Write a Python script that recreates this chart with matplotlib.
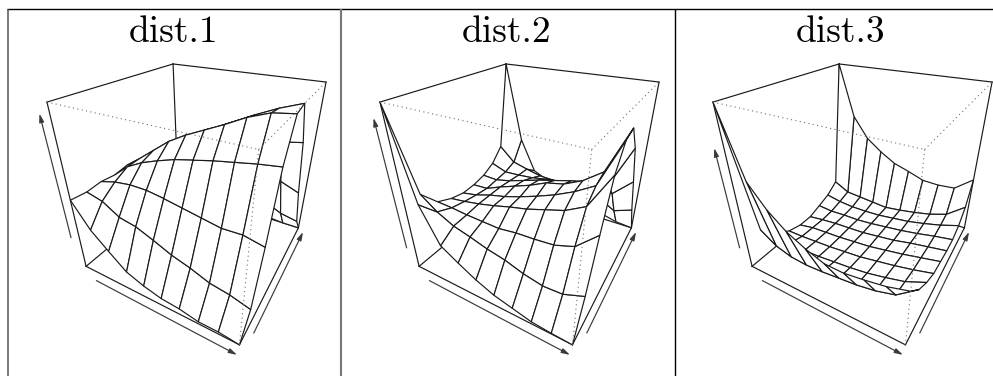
import numpy as np
import matplotlib
matplotlib.use("Agg")
import matplotlib.pyplot as plt
from matplotlib.lines import Line2D
from mpl_toolkits.mplot3d import proj3d

titles = ["dist.1", "dist.2", "dist.3"]
grid_x = np.linspace(-1, 1, 10)
grid_y = np.linspace(-1, 1, 10)

# Heights, one row per y grid line, on the box's -1..1 scale
dist1 = [
    [-.05, -.36, -.56, -.75, -.84, -.90, -.92, -.97, -.97, -1.0],
    [-.07, -.12, -.25, -.29, -.38, -.48, -.55, -.64, -.68, -.75],
    [-.05, .01, .04, .04, .01, -.03, -.07, -.11, -.10, -.15],
    [-.07, .10, .21, .29, .36, .41, .46, .50, .54, .57],
    [-.04, .11, .27, .43, .55, .65, .75, .86, .94, .97],
    [-.12, .03, .20, .36, .49, .60, .71, .82, .92, 1.0],
    [-.35, -.25, -.12, .00, .10, .20, .30, .40, .50, .54],
    [-.50, -.42, -.35, -.27, -.20, -.15, -.10, -.07, -.09, -.18],
    [-.70, -.65, -.60, -.55, -.52, -.50, -.52, -.58, -.69, -.74],
    [-.80, -.85, -.88, -.90, -.92, -.94, -.96, -.98, -1.0, -1.0],
]
dist2 = [
    [1.0, -.03, -.48, -.62, -.75, -.85, -.91, -.97, -.99, -1.0],
    [-.10, -.26, -.37, -.43, -.50, -.55, -.63, -.68, -.67, -.57],
    [-.33, -.34, -.36, -.37, -.38, -.35, -.34, -.32, -.24, -.01],
    [-.41, -.38, -.34, -.29, -.23, -.18, -.11, -.04, .085, .49],
    [-.45, -.41, -.34, -.29, -.22, -.14, -.05, .06, .20, .73],
    [-.44, -.43, -.34, -.26, -.18, -.08, -.03, .08, .25, .77],
    [-.40, -.41, -.36, -.29, -.22, -.16, -.10, -.05, -.02, .48],
    [-.31, -.39, -.38, -.36, -.32, -.30, -.28, -.25, -.26, -.03],
    [-.13, -.33, -.39, -.44, -.45, -.45, -.46, -.52, -.65, -.56],
    [1.0, -.06, -.52, -.62, -.70, -.78, -.85, -.92, -.98, -1.0],
]
dist3 = [
    [1.0, .24, -.02, -.20, -.32, -.41, -.42, -.39, -.35, -.28],
    [-.60, -.75, -.82, -.84, -.83, -.81, -.79, -.75, -.68, -.48],
    [-.80, -.88, -.90, -.89, -.87, -.85, -.82, -.77, -.71, -.60],
    [-.93, -.93, -.92, -.91, -.89, -.87, -.83, -.79, -.74, -.68],
    [-.98, -.94, -.93, -.92, -.90, -.88, -.84, -.80, -.75, -.70],
    [-.98, -.95, -.93, -.92, -.91, -.88, -.85, -.80, -.76, -.72],
    [-.92, -.94, -.93, -.93, -.91, -.88, -.85, -.81, -.76, -.72],
    [-.855, -.90, -.92, -.92, -.91, -.88, -.85, -.80, -.74, -.66],
    [-.733, -.85, -.87, -.89, -.91, -.88, -.84, -.79, -.71, -.52],
    [1.0, .30, .01, -.15, -.28, -.35, -.43, -.44, -.42, -.23],
]
surfaces = [dist1, dist2, dist3]

# Extent of the height arrow for each panel
z_arrow_low = [-.54, -.69, -.69]
z_arrow_high = [.90, .86, .56]

FIG_W, FIG_H = 993, 376
PX_SCALE = 327.0
CENTER_X = [200.2, 533.2, 866.2]
CENTER_Y = 178.7
FOCAL = 0.2053
LINE = "#1a1a1a"
ARROW = "#3a3a3a"
DOT = "#707070"

fig = plt.figure(figsize=(FIG_W / 100, FIG_H / 100), dpi=100, facecolor="white")


def line3(ax, a, b, **kw):
    ln, = ax.plot([a[0], b[0]], [a[1], b[1]], [a[2], b[2]], **kw)
    ln.set_clip_on(False)


def arrow3(ax, a, b):
    M = ax.get_proj()
    x0, y0, _ = proj3d.proj_transform(*a, M)
    x1, y1, _ = proj3d.proj_transform(*b, M)
    ax.annotate("", xy=(x1, y1), xytext=(x0, y0), annotation_clip=False, zorder=4,
                arrowprops=dict(arrowstyle="-|>,head_length=0.55,head_width=0.16",
                                color=ARROW, lw=0.85, shrinkA=0, shrinkB=0,
                                mutation_scale=9))


for k, z in enumerate(surfaces):
    ax = fig.add_subplot(projection="3d", computed_zorder=False)
    ax.set_proj_type("persp", focal_length=FOCAL)
    ax.view_init(elev=30, azim=-60)
    ax.set_box_aspect((1, 1, 1))
    ax.set_xlim(-1, 1, view_margin=0)
    ax.set_ylim(-1, 1, view_margin=0)
    ax.set_zlim(-1, 1, view_margin=0)
    ax.set_axis_off()
    ax.patch.set_visible(False)

    ppu = PX_SCALE / FOCAL
    vx0, vx1 = ax.viewLim.intervalx
    vy0, vy1 = ax.viewLim.intervaly
    w = (vx1 - vx0) * ppu
    h = (vy1 - vy0) * ppu
    left = CENTER_X[k] + vx0 * ppu
    bottom = FIG_H - CENTER_Y + vy0 * ppu
    ax.set_position([left / FIG_W, bottom / FIG_H, w / FIG_W, h / FIG_H])

    # box edges behind the surface
    solid = dict(color=LINE, lw=0.85, zorder=1)
    for a, b in [((-1, -1, 1), (-1, 1, 1)), ((-1, 1, 1), (1, 1, 1)),
                 ((-1, -1, 1), (-1, -1, -1)), ((-1, 1, 1), (-1, 1, -1)),
                 ((1, 1, 1), (1, 1, -1)), ((-1, -1, -1), (-1, 1, -1)),
                 ((-1, 1, -1), (1, 1, -1)), ((-1, -1, -1), (1, -1, -1)),
                 ((1, -1, -1), (1, 1, -1))]:
        line3(ax, a, b, **solid)

    X, Y = np.meshgrid(grid_x, grid_y)
    surf = ax.plot_surface(X, Y, np.array(z), rstride=1, cstride=1, color="white",
                           edgecolor=LINE, linewidth=0.85, shade=False, zorder=2,
                           antialiased=True)
    surf.set_clip_on(False)

    # nearest box edges, dotted over the surface
    dotted = dict(color=DOT, lw=0.8, ls=(0, (1, 3)), zorder=3)
    for a, b in [((-1, -1, 1), (1, -1, 1)), ((1, -1, 1), (1, 1, 1)),
                 ((1, -1, 1), (1, -1, -1))]:
        line3(ax, a, b, **dotted)

    # axis arrows
    arrow3(ax, (-.73, -1.10, -1), (1.02, -1.10, -1))
    arrow3(ax, (1.07, -.82, -1), (1.08, .94, -1))
    arrow3(ax, (-1.06, -1.06, z_arrow_low[k]), (-1.06, -1.06, z_arrow_high[k]))

# table rules
for xa, ya, xb, yb, col, lw in [
    (7, 8.5, 993, 8.5, "black", 1.0),
    (7.5, 8.5, 7.5, 376, "#555555", 1.1),
    (341, 8.5, 341, 376, "#777777", 1.5),
    (674.5, 8.5, 674.5, 376, "black", 1.0),
]:
    fig.add_artist(Line2D([xa / FIG_W, xb / FIG_W], [1 - ya / FIG_H, 1 - yb / FIG_H],
                          color=col, lw=lw, solid_capstyle="butt"))

for cx, t in zip([173.5, 507, 841], titles):
    fig.text(cx / FIG_W, 1 - 41.5 / FIG_H, t, family="cmr10", fontsize=27,
             ha="center", va="baseline", color="black")

fig.savefig("out.png", dpi=100, facecolor="white")
